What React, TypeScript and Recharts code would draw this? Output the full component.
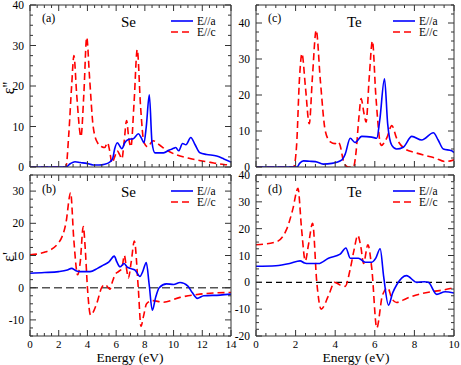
import React from "react";
import { ComposedChart, Line, XAxis, YAxis, ReferenceLine, Legend } from "recharts";

const BLUE = "#0000ff";
const RED = "#ff0000";
const FONT = "Liberation Serif";

// (a) Se, eps'' for E//a and E//c
const se2aE = [0, 2.5, 2.8, 3.13, 3.5, 3.95, 4.4, 4.8, 5.2, 5.5, 5.75, 5.9, 6.08, 6.25, 6.4, 6.6, 6.85, 7.2, 7.55, 7.75, 7.94, 8.1, 8.31, 8.5, 8.7, 9.3, 9.7, 10.0, 10.15, 10.35, 10.63, 10.86, 11.2, 11.5, 11.84, 12.3, 13.0, 13.5, 14];
const se2a = [0, 0, 0.8, 1.3, 1.1, 0.9, 0.5, 0.5, 0.7, 1.1, 2.0, 4.5, 6, 5.2, 4.5, 6.0, 6.8, 7.0, 8.2, 7.2, 6, 10, 17.8, 6, 3.5, 3.5, 4.2, 4.6, 4.8, 4, 5.8, 5.5, 7.3, 5.5, 3.5, 3.1, 2.7, 2.0, 1.2];
const se2cE = [0, 2.5, 2.7, 2.9, 3.06, 3.25, 3.55, 3.75, 3.95, 4.15, 4.4, 4.7, 5.0, 5.2, 5.4, 5.55, 5.7, 5.9, 6.07, 6.25, 6.4, 6.55, 6.73, 6.88, 7.03, 7.25, 7.47, 7.7, 7.94, 8.2, 8.57, 9.0, 9.5, 10.2, 11.0, 11.8, 12.8, 13.5, 14];
const se2c = [0, 0, 8, 20, 27.5, 18, 7.5, 18, 32, 22, 10, 6, 5, 4.8, 6, 4, 1, 2.5, 4, 3, 2, 6, 11.5, 7, 5, 16, 29, 15, 6, 5, 6.5, 5.5, 4.2, 3, 2.2, 1.6, 1, 0.6, 0.5];

// (c) Te, eps''
const te2aE = [0, 2.07, 2.2, 2.4, 2.7, 3.0, 3.4, 3.83, 4.34, 4.5, 4.76, 5.0, 5.34, 5.85, 6.1, 6.25, 6.49, 6.65, 6.86, 7.1, 7.44, 7.87, 8.37, 8.96, 9.2, 9.46, 9.88, 10];
const te2a = [0, 0, 1.0, 1.7, 1.6, 1.5, 0.8, 1.0, 2.0, 3.5, 8, 6.8, 8.5, 8.3, 8, 13, 24.5, 12, 6, 5, 5.5, 8.5, 7.5, 9.5, 7.5, 5, 4.5, 4];
const te2cE = [0, 1.9, 2.05, 2.2, 2.32, 2.5, 2.69, 2.85, 3.04, 3.25, 3.5, 3.75, 4.0, 4.13, 4.25, 4.4, 4.55, 4.67, 4.92, 5.05, 5.2, 5.31, 5.45, 5.56, 5.72, 5.88, 6.05, 6.32, 6.6, 6.86, 7.1, 7.53, 8.03, 8.7, 9.04, 9.55, 10];
const te2c = [0, 0, 6, 25, 31.5, 22, 12, 25, 38, 24, 10, 7, 6.5, 7, 6, 2, 0.3, 0, 0, 4, 14, 19, 15, 12.5, 25, 35, 20, 6, 8, 11.5, 8, 5, 4, 3, 2.5, 1.5, 2];

// (b) Se, eps'
const se1aE = [0, 1, 2, 2.6, 2.9, 3.2, 3.48, 4.18, 4.7, 5.1, 5.5, 5.87, 6.05, 6.27, 6.55, 6.75, 6.96, 7.31, 7.66, 7.85, 8.1, 8.3, 8.52, 8.75, 9.0, 9.5, 10, 10.45, 11.0, 11.3, 11.65, 12.1, 13.24, 14];
const se1a = [4.5, 4.7, 5, 5.5, 6, 5.3, 5, 5, 6, 7, 8, 9.8, 8, 6.5, 7.5, 6.5, 6, 5.5, 3.5, 5, 7.8, 1, -7, -3, 0, 1.2, 1.0, 1.6, 0.5, -1.5, -3.3, -2.5, -2.3, -2];
const se1cE = [0, 1, 2, 2.5, 2.83, 3.05, 3.32, 3.5, 3.71, 3.85, 4.0, 4.22, 4.64, 4.99, 5.22, 5.45, 5.57, 5.75, 5.92, 6.16, 6.4, 6.57, 6.72, 6.85, 7.05, 7.27, 7.54, 7.73, 7.9, 8.12, 8.5, 9.28, 10.45, 11.84, 13, 14];
const se1c = [10.2, 11, 14, 20, 29.5, 15, 4, 8, 19, 12, 0, -8.5, -5, 0, 1, 0, -0.5, 2, 4, 5, 6, 10, 6, 3, 8, 14.5, 0, -12, -9, -5, -4, -4.5, -3, -2, -1.6, -1.5];

// (d) Te, eps'
const te1aE = [0, 1, 1.7, 2.23, 2.45, 2.65, 3.16, 3.66, 4.25, 4.54, 4.76, 5.17, 5.51, 5.85, 6.05, 6.27, 6.45, 6.69, 6.9, 7.1, 7.6, 8.12, 8.5, 8.7, 9.13, 9.55, 10];
const te1a = [6, 6.2, 7, 8, 7.2, 7, 7, 9, 10.5, 12.8, 9, 9, 7.5, 7.5, 9, 12.5, 2, -8.5, -4, -1, 2.5, 0, 0.2, 0, -4.5, -3.5, -4];
const te1cE = [0, 1, 1.56, 1.85, 2.12, 2.3, 2.49, 2.65, 2.86, 3.07, 3.29, 3.66, 3.97, 4.25, 4.5, 4.76, 4.95, 5.14, 5.3, 5.43, 5.65, 5.85, 6.1, 6.38, 6.65, 6.86, 7.1, 7.6, 8.2, 8.87, 9.5, 10];
const te1c = [14, 15, 20, 27, 35, 20, 8, 14, 22, 0, -10, -5, 0, -1, -1.5, 5, 12, 17.5, 13, 7, 14, 5, -17, -5, -2, -6, -7.5, -6, -4.5, -3.5, -2.8, -2];

const pts = (xs: number[], ys: number[]) => xs.map((e, i) => ({ e, v: ys[i] }));

const steps = (a: number, b: number, s: number) => {
  const out: number[] = [];
  for (let v = a; v <= b + 1e-9; v += s) out.push(Math.round(v * 100) / 100);
  return out;
};

type Side = "bottom" | "top" | "left" | "right";

// ticks point inward, labels only on majors
function tickFn(side: Side, majorStep: number, labels: boolean) {
  return (props: any) => {
    const { x, y, payload } = props;
    const v: number = payload.value;
    const q = v / majorStep;
    const major = Math.abs(q - Math.round(q)) < 1e-6;
    const len = major ? 6 : 3;
    let l = { x1: x, y1: y, x2: x, y2: y - len };
    if (side === "top") l = { x1: x, y1: y, x2: x, y2: y + len };
    if (side === "left") l = { x1: x, y1: y, x2: x + len, y2: y };
    if (side === "right") l = { x1: x, y1: y, x2: x - len, y2: y };
    return (
      <g>
        <line {...l} stroke="#333" strokeWidth={1} />
        {labels && major && side === "bottom" && (
          <text x={x} y={y + 11.5} textAnchor="middle" fontSize={11} fontFamily={FONT} fill="#000">
            {v}
          </text>
        )}
        {labels && major && side === "left" && (
          <text x={x - 6} y={y + 4} textAnchor="end" fontSize={11.5} fontFamily={FONT} fill="#000">
            {v}
          </text>
        )}
      </g>
    );
  };
}

const W = 461;
const H = 365;

interface PanelProps {
  box: [number, number, number, number];
  xMax: number;
  yDomain: [number, number];
  xLabels: boolean;
  aData: { e: number; v: number }[];
  cData: { e: number; v: number }[];
  zero?: { stroke: string; width: number; dash: string };
  legendX: number;
  legendY: number;
}

function LegendBox() {
  return (
    <svg width={60} height={24} style={{ display: "block" }}>
      <line x1={0} y1={6} x2={22} y2={6} stroke={BLUE} strokeWidth={1.6} />
      <line x1={0} y1={17} x2={22} y2={17} stroke={RED} strokeWidth={1.6} strokeDasharray="7 4" />
      <text x={26} y={10} fontSize={11.5} fontFamily={FONT}>E//a</text>
      <text x={26} y={21} fontSize={11.5} fontFamily={FONT}>E//c</text>
    </svg>
  );
}

function Panel(p: PanelProps) {
  const [l, t, r, b] = p.box;
  const xt = steps(0, p.xMax, 0.5);
  const yt = steps(p.yDomain[0], p.yDomain[1], 2.5);
  const axisLine = { stroke: "#333", strokeWidth: 1 };
  return (
    <div style={{ position: "absolute", left: 0, top: 0 }}>
      <ComposedChart width={W} height={H} margin={{ left: l - 1, top: t - 1, right: W - r - 1, bottom: H - b - 1 }}>
        <XAxis xAxisId="b" type="number" dataKey="e" orientation="bottom" domain={[0, p.xMax]} ticks={xt} interval={0}
          height={1} tickSize={0} tickMargin={0} tickLine={false} axisLine={axisLine} tick={tickFn("bottom", 2, p.xLabels)} allowDataOverflow />
        <XAxis xAxisId="t" type="number" dataKey="e" orientation="top" domain={[0, p.xMax]} ticks={xt} interval={0}
          height={1} tickSize={0} tickMargin={0} tickLine={false} axisLine={axisLine} tick={tickFn("top", 2, false)} allowDataOverflow />
        <YAxis yAxisId="l" type="number" orientation="left" domain={p.yDomain} ticks={yt} interval={0}
          width={1} tickSize={0} tickMargin={0} tickLine={false} axisLine={axisLine} tick={tickFn("left", 10, true)} allowDataOverflow />
        <YAxis yAxisId="r" type="number" orientation="right" domain={p.yDomain} ticks={yt} interval={0}
          width={1} tickSize={0} tickMargin={0} tickLine={false} axisLine={axisLine} tick={tickFn("right", 10, false)} allowDataOverflow />
        {p.zero && (
          <ReferenceLine xAxisId="b" yAxisId="l" y={0} stroke={p.zero.stroke} strokeWidth={p.zero.width} strokeDasharray={p.zero.dash} />
        )}
        <Line xAxisId="b" yAxisId="l" data={p.cData} dataKey="v" type="monotone" dot={false} stroke={RED}
          strokeWidth={1.6} strokeDasharray="7 4" isAnimationActive={false} />
        <Line xAxisId="b" yAxisId="l" data={p.aData} dataKey="v" type="monotone" dot={false} stroke={BLUE}
          strokeWidth={1.6} isAnimationActive={false} />
        <Legend layout="horizontal" verticalAlign="middle" align="center"
          wrapperStyle={{ left: p.legendX, top: p.legendY, width: 60, height: 24 }} content={() => <LegendBox />} />
      </ComposedChart>
    </div>
  );
}

export default function App() {
  return (
    <div style={{ position: "absolute", left: 0, top: 0, width: W, height: H, background: "#fff", fontFamily: FONT }}>
      <Panel box={[30, 5, 231, 167]} xMax={14} yDomain={[0, 40]} xLabels={false}
        aData={pts(se2aE, se2a)} cData={pts(se2cE, se2c)} legendX={171} legendY={15} />
      <Panel box={[256, 5, 454, 167]} xMax={10} yDomain={[0, 45]} xLabels={false}
        aData={pts(te2aE, te2a)} cData={pts(te2cE, te2c)} legendX={393} legendY={15} />
      <Panel box={[30, 175, 231, 336]} xMax={14} yDomain={[-15, 35]} xLabels={true}
        aData={pts(se1aE, se1a)} cData={pts(se1cE, se1c)} legendX={171} legendY={185}
        zero={{ stroke: "#555", width: 1.5, dash: "8 4" }} />
      <Panel box={[256, 175, 454, 336]} xMax={10} yDomain={[-20, 40]} xLabels={true}
        aData={pts(te1aE, te1a)} cData={pts(te1cE, te1c)} legendX={393} legendY={185}
        zero={{ stroke: "#000", width: 1.2, dash: "6 4" }} />
      <svg width={W} height={H} style={{ position: "absolute", left: 0, top: 0, pointerEvents: "none" }}>
        <g fontFamily={FONT} fill="#000">
          <text x={42} y={22} fontSize={12}>(a)</text>
          <text x={268} y={22} fontSize={12}>(c)</text>
          <text x={42} y={193} fontSize={12}>(b)</text>
          <text x={268} y={193} fontSize={12}>(d)</text>
          <text x={121} y={27} fontSize={15}>Se</text>
          <text x={347} y={27} fontSize={15}>Te</text>
          <text x={121} y={197} fontSize={15}>Se</text>
          <text x={347} y={197} fontSize={15}>Te</text>
          <text x={130} y={361.5} fontSize={13.5} textAnchor="middle">Energy (eV)</text>
          <text x={356} y={361.5} fontSize={13.5} textAnchor="middle">Energy (eV)</text>
          <text transform="translate(14,88) rotate(-90)" fontSize={16} textAnchor="middle">ε''</text>
          <text transform="translate(14,257) rotate(-90)" fontSize={16} textAnchor="middle">ε'</text>
        </g>
      </svg>
    </div>
  );
}
